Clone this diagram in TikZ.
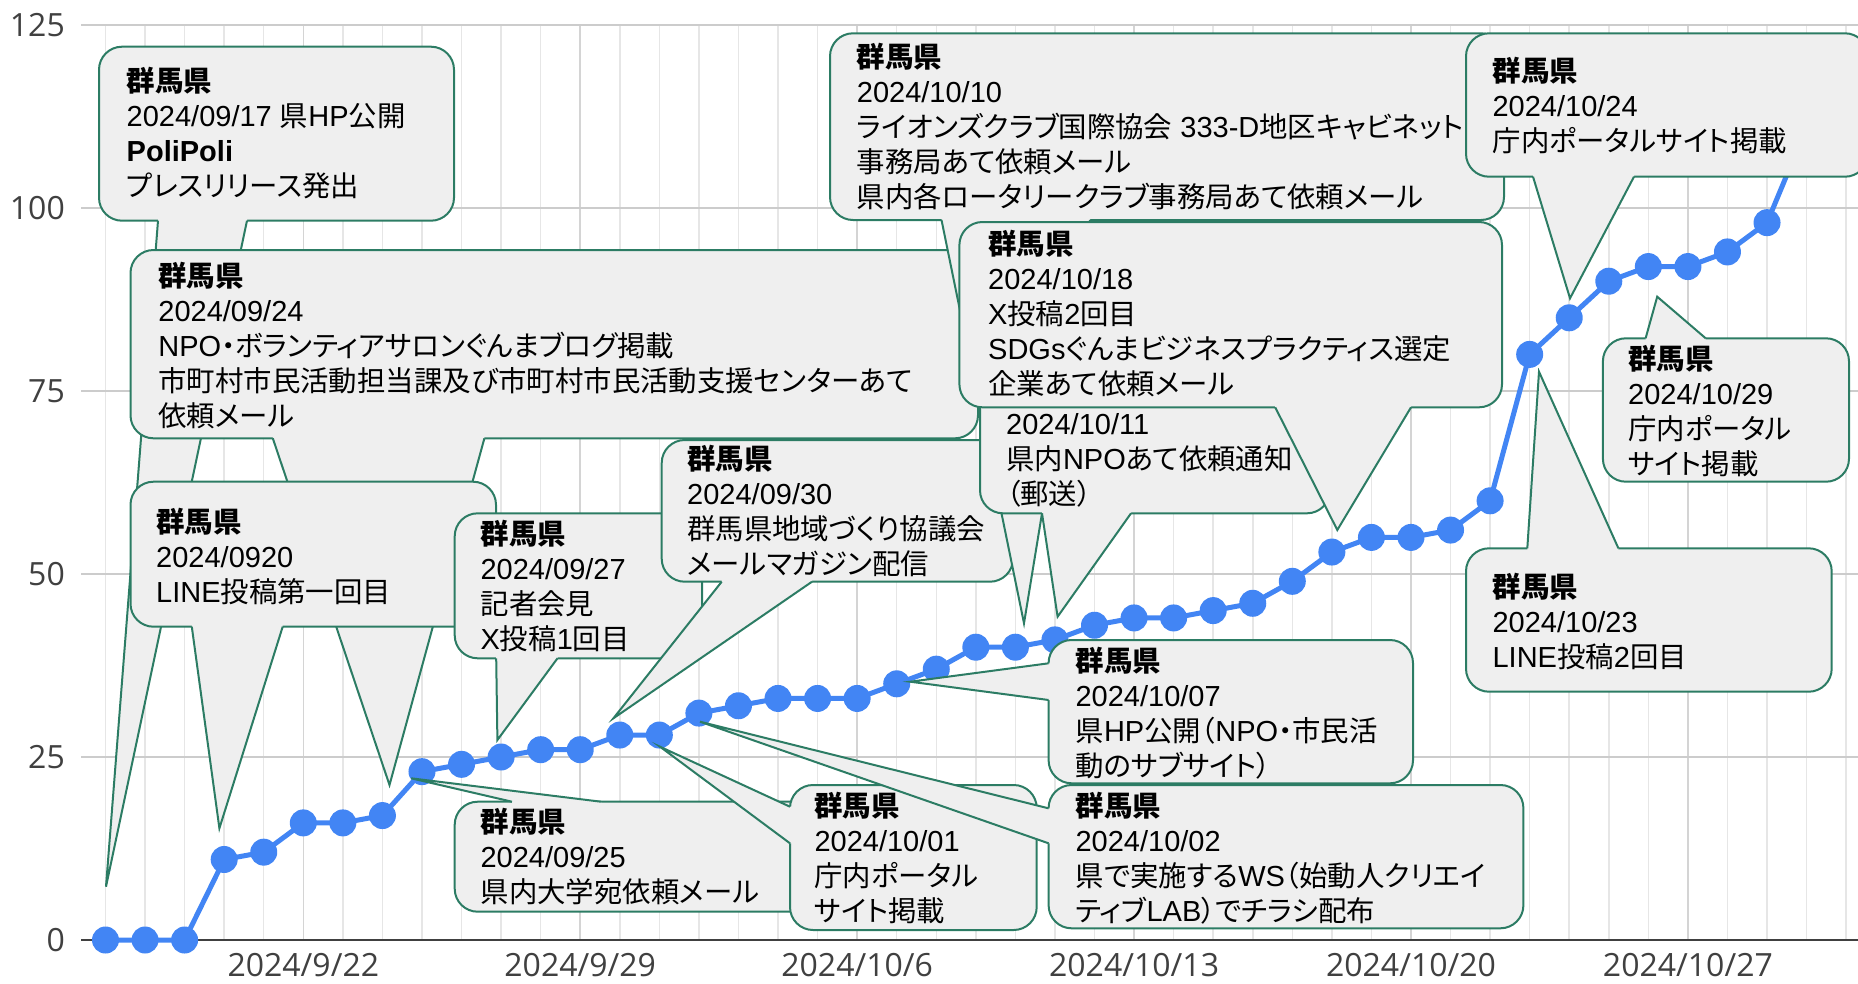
\documentclass[tikz,border=0pt]{standalone}
\usepackage{fontspec}
\setmainfont{Liberation Sans}
\newfontfamily\jpfont{Noto Sans CJK JP}[Scale=0.98,RawFeature=+palt]
\newfontfamily\axisfont{Open Sans}
\usetikzlibrary{calc}

% Japanese characters are set in the CJK font, the rest in Liberation Sans
\XeTeXinterchartokenstate=1
\newXeTeXintercharclass\jpclass
\newcommand{\setjpclass}[2]{\count255=#1\relax
	\loop\XeTeXcharclass\count255=\jpclass
	\ifnum\count255<#2\relax\advance\count255 by 1\repeat}
\setjpclass{"3000}{"30FF}
\setjpclass{"4E00}{"9FFF}
\setjpclass{"FF00}{"FFEF}
\XeTeXinterchartoks 0 \jpclass = {\jpfont}
\XeTeXinterchartoks 4095 \jpclass = {\jpfont}
\XeTeXinterchartoks \jpclass 0 = {\rmfamily}
\XeTeXinterchartoks \jpclass 4095 = {\rmfamily}

\definecolor{boxgray}{HTML}{EFEFEF}
\definecolor{boxgreen}{RGB}{44,124,100}
\definecolor{dotblue}{HTML}{4285F4}
\definecolor{gridmajor}{HTML}{CCCCCC}
\definecolor{gridminor}{HTML}{E6E6E6}

\tikzset{
	bubblebox/.style={fill=boxgray,draw=boxgreen,line width=2pt,rounded corners=23pt},
	bubblefill/.style={fill=boxgray},
	bubbleedge/.style={draw=boxgreen,line width=2pt},
	bubbletext/.style={anchor=north west,inner sep=0pt,align=left,text=black,font=\fontsize{29}{35}\selectfont},
	axislabel/.style={inner sep=0pt,text=black!75,font=\axisfont\fontsize{32}{36}\selectfont},
	dataline/.style={dotblue,line width=5pt,line join=round},
}

% box corners, tail base, tail base, tail tip, inward shift
\newcommand{\bubble}[6]{%
	\draw[bubblebox] (#1) rectangle (#2);
	\fill[bubblefill] ($(#3)+(#6)$) -- (#3) -- (#5) -- (#4) -- ($(#4)+(#6)$) -- cycle;
	\draw[bubbleedge] (#3) -- (#5) -- (#4);
}
\newcommand{\hd}{\textbf{群馬県}}

\begin{document}
\begin{tikzpicture}[x=1pt,y=-1pt]
	\useasboundingbox (0,0) rectangle (1858,983);
	% grid and axis
	\foreach \i in {0,...,44}
		\draw[gridminor,line width=1.5pt] ({105.5+39.56*\i},25) -- ({105.5+39.56*\i},940);
	\foreach \i in {5,12,...,40}
		\draw[gridmajor!85,line width=1.5pt] ({105.5+39.56*\i},25) -- ({105.5+39.56*\i},940);
	\foreach \v in {25,50,...,125}
		\draw[gridmajor,line width=2pt] (81,{940-7.32*\v}) -- (1858,{940-7.32*\v});
	\draw[black!75,line width=2pt] (81,940) -- (1858,940);
	\foreach \v in {0,25,...,125}
		\node[axislabel,anchor=east] (y\v) at (65,{940-7.32*\v}) {\v};
	\foreach \i/\m/\d in {5/9/22,12/9/29,19/10/6,26/10/13,33/10/20,40/10/27}
		\node[axislabel,anchor=north] (x\i) at ({105.5+39.56*\i},953) {2024/\m/\d};

	% daily totals
	\foreach \v [count=\i from 0] in {0,0,0,11,12,16,16,17,23,24,25,26,26,28,28,31,32,33,33,33,35,37,40,40,41,43,44,44,45,46,49,53,55,55,56,60,80,85,90,92,92,94,98,111}
		\coordinate (d\i) at ({105.5+39.56*\i},{940-7.32*\v});
	\draw[dataline] (d0) \foreach \i in {1,...,43} { -- (d\i) };
	\foreach \i in {0,...,43}
		\fill[dotblue] (d\i) circle (13.5pt);

	% callouts
	\bubble{99,46.7}{454,220.7}{158,220.7}{247,220.7}{106,886.7}{0,-4}
	\node[bubbletext] (t0917) at (126.5,66.7) {\hd\\2024/09/17 県HP公開\\\textbf{PoliPoli}\\プレスリリース発出};

	\bubble{130.5,250}{978,438.3}{272.8,438.3}{484.4,438.3}{389.5,785}{0,-4}
	\node[bubbletext] (t0924) at (158.2,261.7) {\hd\\2024/09/24\\NPO・ボランティアサロンぐんまブログ掲載\\市町村市民活動担当課及び市町村市民活動支援センターあて\\依頼メール};

	\bubble{130.5,481.7}{496,626.7}{191.8,626.7}{282.7,626.7}{219.4,828.3}{0,-4}
	\node[bubbletext] (t0920) at (156,508) {\hd\\2024/0920\\LINE投稿第一回目};

	\bubble{454.7,513.3}{702,658.3}{496.2,658.3}{557.5,658.3}{497.4,740}{0,-4}
	\node[bubbletext] (t0927) at (480.4,520) {\hd\\2024/09/27\\記者会見\\X投稿1回目};

	\bubble{661.7,440}{1013,581.7}{721.7,581.7}{812,581.7}{613.4,718.3}{0,-4}
	\node[bubbletext] (t0930) at (687,445) {\hd\\2024/09/30\\群馬県地域づくり協議会\\メールマガジン配信};

	\bubble{830,33.3}{1504,220}{941.5,220}{1090,220}{1024,623.3}{0,-4}
	\node[bubbletext] (t1010) at (856.7,43.3) {\hd\\2024/10/10\\ライオンズクラブ国際協会 333-D地区キャビネット\\事務局あて依頼メール\\県内各ロータリークラブ事務局あて依頼メール};

	\bubble{980,355}{1330,513.3}{1042,513.3}{1131,513.3}{1057.6,616.7}{0,-4}
	\node[bubbletext] (t1011) at (1006,413) {2024/10/11\\県内NPOあて依頼通知\\（郵送）};

	\bubble{959.4,222}{1502,407.3}{1275.2,407.3}{1411,407.3}{1337.3,530}{0,-4}
	\node[bubbletext] (t1018) at (988,230) {\hd\\2024/10/18\\X投稿2回目\\SDGsぐんまビジネスプラクティス選定\\企業あて依頼メール};

	\bubble{1048.6,640}{1413,783.3}{1048.6,663.3}{1048.6,700}{910.2,681.7}{4,0}
	\node[bubbletext] (t1007) at (1075.4,646.7) {\hd\\2024/10/07\\県HP公開（NPO・市民活\\動のサブサイト）};

	\bubble{454.7,801.7}{830,911.7}{512,801.7}{601,801.7}{411.2,778.3}{0,4}
	\node[bubbletext] (t0925) at (480.4,808) {\hd\\2024/09/25\\県内大学宛依頼メール};

	\bubble{790,785}{1036.7,930}{790,806.7}{790,843.3}{660,746.7}{4,0}
	\node[bubbletext] (t1001) at (814.3,791.7) {\hd\\2024/10/01\\庁内ポータル\\サイト掲載};

	\bubble{1048.6,785}{1523.4,928.3}{1048.6,808.3}{1048.6,843.3}{700,721.7}{4,0}
	\node[bubbletext] (t1002) at (1075.4,791.7) {\hd\\2024/10/02\\県で実施するWS（始動人クリエイ\\ティブLAB）でチラシ配布};

	\bubble{1466,33.3}{1868,176.7}{1533,176.7}{1634,176.7}{1570,298.3}{0,-4}
	\node[bubbletext] (t1024) at (1492.4,56.7) {\hd\\2024/10/24\\庁内ポータルサイト掲載};

	\bubble{1602.9,338.3}{1849,481.7}{1645.6,338.3}{1705.7,338.3}{1657.2,296.7}{0,4}
	\node[bubbletext] (t1029) at (1628,345) {\hd\\2024/10/29\\庁内ポータル\\サイト掲載};

	\bubble{1466,548.3}{1831.7,691.7}{1527.3,548.3}{1618.4,548.3}{1539,371.7}{0,4}
	\node[bubbletext] (t1023) at (1492.4,573) {\hd\\2024/10/23\\LINE投稿2回目};
\end{tikzpicture}
\end{document}
